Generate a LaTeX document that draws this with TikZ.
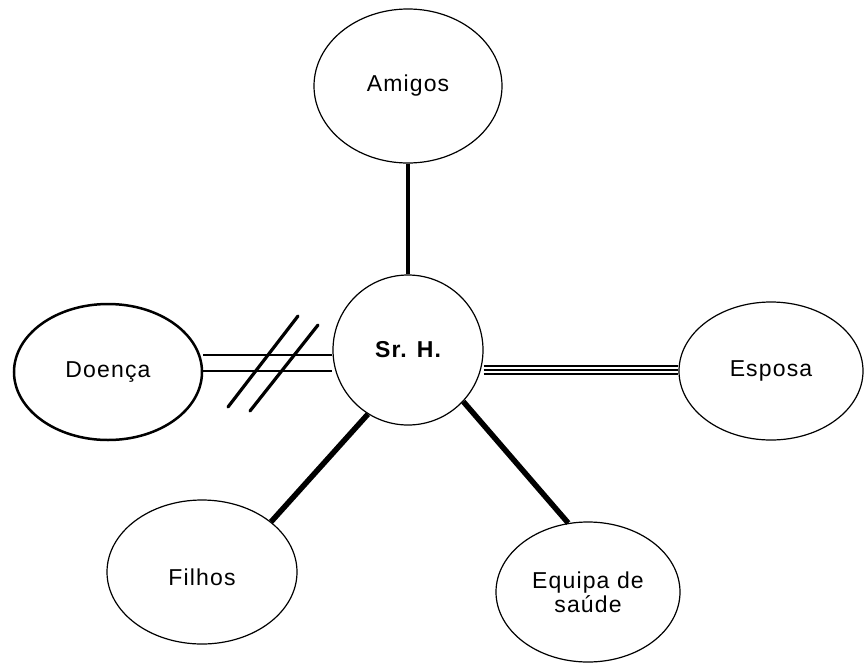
\documentclass[tikz,border=0pt]{standalone}
\usepackage{fontspec}
\setmainfont{Liberation Sans}[LetterSpace=5]
\usetikzlibrary{shapes.geometric}
\begin{document}
\begin{tikzpicture}[x=1pt,y=-1pt,
  actor/.style={ellipse, draw, line width=1.2pt, inner sep=0pt, align=center,
    font=\fontsize{23}{24}\selectfont},
  link/.style={line width=3.2pt},
  thick link/.style={line width=5.5pt},
  pair/.style={line width=2.8pt},
  slash/.style={line width=3.2pt, line cap=round},
  fine/.style={line width=1.4pt},
]
\useasboundingbox (0,0) rectangle (865,665);

% people and entities around the patient
\node[actor, minimum width=150pt, minimum height=150pt, font=\fontsize{23}{23}\selectfont\bfseries] (srh) at (408,350) {Sr. H.};
\node[actor, minimum width=188pt, minimum height=154pt] (amigos) at (408,86) {Amigos};
\node[actor, line width=2.5pt, minimum width=188pt, minimum height=136pt] (doenca) at (108,372) {Doença};
\node[actor, minimum width=184pt, minimum height=138pt] (esposa) at (771,371) {Esposa};
\node[actor, minimum width=190pt, minimum height=144pt, text height=26pt, text depth=0pt] (filhos) at (202,572) {Filhos};
\node[actor, minimum width=184pt, minimum height=140pt] (equipa) at (588,592) {Equipa de\\saúde};

% ordinary ties
\draw[link] (amigos) -- (srh);
\draw[thick link] (srh.238.5) -- (filhos.36.6);
\draw[thick link] (srh.317) -- (equipa.106.7);

% broken tie: double line crossed by two strokes
\draw[pair] (doenca.east |- 0,355) -- (srh.west |- 0,355);
\draw[pair] (doenca.east |- 0,371) -- (srh.west |- 0,371);
\draw[slash] (228,407) -- (298,316);
\draw[slash] (250,411) -- (318,325);

% strong tie: triple line
\draw[fine] (srh.east |- 0,366) -- (esposa.west |- 0,366);
\draw[line width=2.2pt] (srh.east |- 0,370) -- (esposa.west |- 0,370);
\draw[fine] (srh.east |- 0,374) -- (esposa.west |- 0,374);
\end{tikzpicture}
\end{document}
